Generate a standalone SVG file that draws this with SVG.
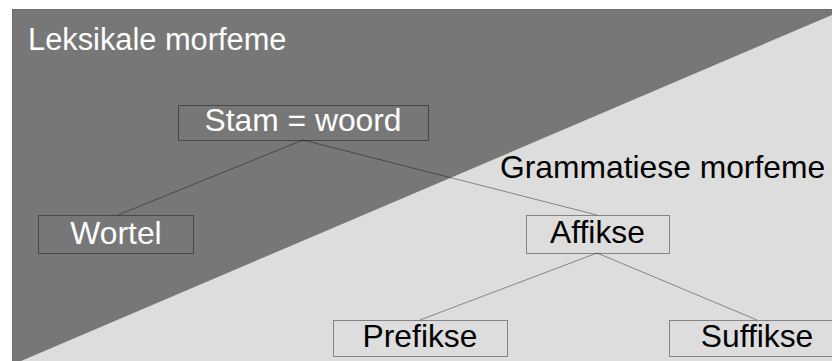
<svg xmlns="http://www.w3.org/2000/svg" width="832" height="361" viewBox="0 0 832 361">
<style>
.box{fill:none;stroke:#000;stroke-opacity:0.4;stroke-width:1}
.edge{fill:none;stroke:#000;stroke-opacity:0.4;stroke-width:1}
text{font-family:"Liberation Sans",Arial,sans-serif;font-size:31.8px;text-anchor:middle}
.w{fill:#ffffff}
.b{fill:#000000}
</style>
<rect x="0" y="0" width="832" height="361" fill="#ffffff"/>
<rect x="12.5" y="9.5" width="830" height="360" fill="#777777" stroke="#6c6c6c" stroke-width="1"/>
<polygon points="832,15 832,361 21,361" fill="#dddddd"/>
<text class="w" x="28" y="50" style="text-anchor:start;font-size:30.8px">Leksikale morfeme</text>
<text class="b" x="500" y="178" style="text-anchor:start">Grammatiese morfeme</text>
<g id="connectors">
<line class="edge" x1="303" y1="140" x2="118" y2="215"/>
<line class="edge" x1="303" y1="140" x2="597" y2="215"/>
<line class="edge" x1="597" y1="253" x2="420" y2="320"/>
<line class="edge" x1="597" y1="253" x2="757" y2="320"/>
</g>
<g id="stam">
<rect class="box" x="178.5" y="105.5" width="250" height="35"/>
<text class="w" x="303" y="131">Stam = woord</text>
</g>
<g id="wortel">
<rect class="box" x="38.5" y="215.5" width="155" height="38"/>
<text class="w" x="116" y="244">Wortel</text>
</g>
<g id="affikse">
<rect class="box" x="526.5" y="215.5" width="143" height="38"/>
<text class="b" x="597.5" y="243">Affikse</text>
</g>
<g id="prefikse">
<rect class="box" x="333.5" y="320.5" width="174" height="36"/>
<text class="b" x="420" y="347">Prefikse</text>
</g>
<g id="suffikse">
<rect class="box" x="669.5" y="320.5" width="176" height="36"/>
<text class="b" x="757" y="347">Suffikse</text>
</g>
</svg>
